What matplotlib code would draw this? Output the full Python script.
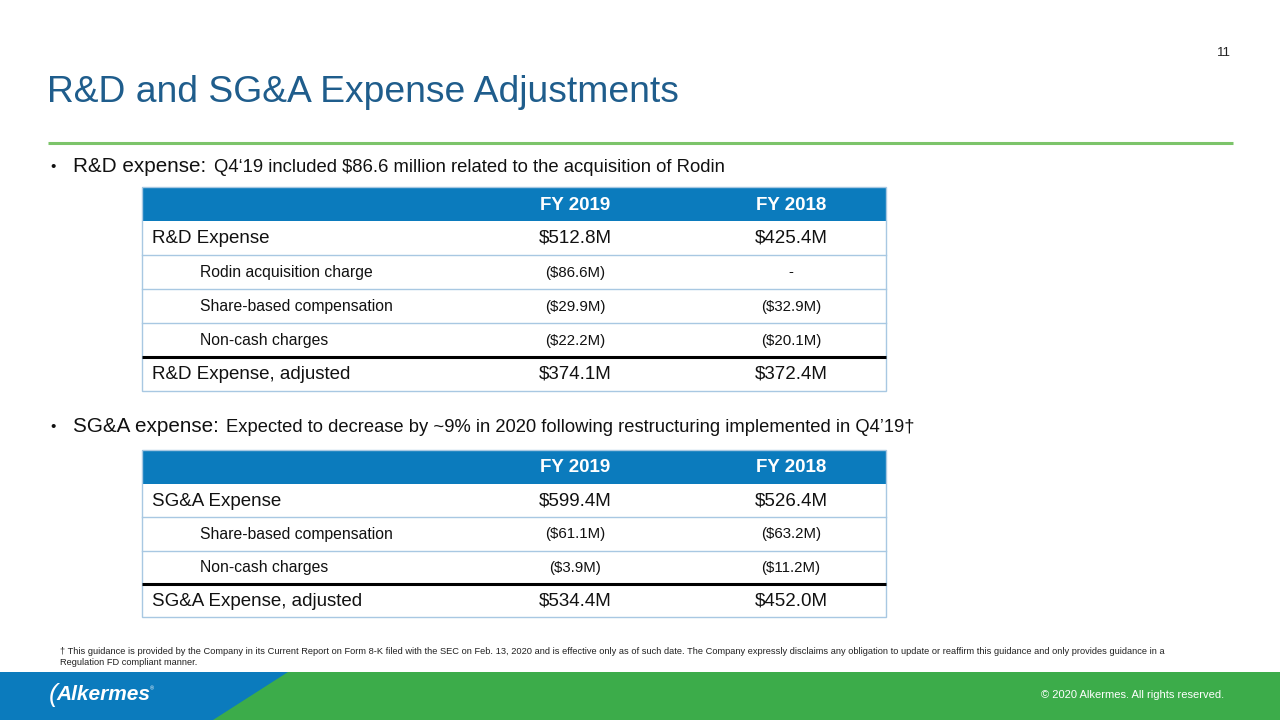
import matplotlib
matplotlib.use("Agg")
import matplotlib.pyplot as plt
from matplotlib.patches import Rectangle, Polygon
from matplotlib import font_manager

# ---- slide text / table data ----
title = "R&D and SG&A Expense Adjustments"
page_no = "11"

bullet1_head = "R&D expense:"
bullet1_body = "Q4\u201819 included $86.6 million related to the acquisition of Rodin"
bullet2_head = "SG&A expense:"
bullet2_body = "Expected to decrease by ~9% in 2020 following restructuring implemented in Q4\u201919\u2020"

col_headers = ["FY 2019", "FY 2018"]

rd_labels = ["R&D Expense", "Rodin acquisition charge", "Share-based compensation",
             "Non-cash charges", "R&D Expense, adjusted"]
rd_fy2019 = ["$512.8M", "($86.6M)", "($29.9M)", "($22.2M)", "$374.1M"]
rd_fy2018 = ["$425.4M", "-", "($32.9M)", "($20.1M)", "$372.4M"]
rd_indent = [False, True, True, True, False]

sga_labels = ["SG&A Expense", "Share-based compensation", "Non-cash charges",
              "SG&A Expense, adjusted"]
sga_fy2019 = ["$599.4M", "($61.1M)", "($3.9M)", "$534.4M"]
sga_fy2018 = ["$526.4M", "($63.2M)", "($11.2M)", "$452.0M"]
sga_indent = [False, True, True, False]

footnote = ("\u2020 This guidance is provided by the Company in its Current Report on Form 8-K filed with the SEC on "
            "Feb. 13, 2020 and is effective only as of such date. The Company expressly disclaims any obligation "
            "to update or reaffirm this guidance and only provides guidance in a\nRegulation FD compliant manner.")
copyright_txt = "\u00a9 2020 Alkermes. All rights reserved."

# ---- style ----
BLUE = "#0b7bbd"
GREEN = "#3cac4a"
TITLE_C = "#1f5d8c"
RULE_C = "#7cc46a"
GRID_C = "#a8c8e2"

names = {f.name for f in font_manager.fontManager.ttflist}
SANS = "Liberation Sans" if "Liberation Sans" in names else "DejaVu Sans"

fig = plt.figure(figsize=(12.8, 7.2), dpi=100)
ax = fig.add_axes([0, 0, 1, 1])
ax.set_xlim(0, 1280)
ax.set_ylim(720, 0)
ax.axis("off")

# title, page number, green rule
ax.text(47, 92, title, fontsize=26.8, color=TITLE_C, family=SANS, va="center", ha="left")
ax.text(1231, 53, page_no, fontsize=9.5, color="#222222", family=SANS, va="center", ha="right")
ax.plot([48, 1233], [143, 143], color=RULE_C, lw=2.2, solid_capstyle="butt")


def bullet(y, head, body, body_fs):
    ax.text(50, y, "\u2022", fontsize=11, family=SANS, va="center", ha="left", color="#111111")
    t = ax.text(73, y, head + " ", fontsize=14.9, family=SANS, va="center", ha="left", color="#111111")
    fig.canvas.draw()
    x2 = t.get_window_extent().x1
    ax.text(x2 + 2, y + 0.5, body, fontsize=body_fs, family=SANS, va="center", ha="left", color="#111111")


bullet(167, bullet1_head, bullet1_body, 13.3)
bullet(427, bullet2_head, bullet2_body, 13.2)


def table(top, labels, v1, v2, indent, hdr_h, row_h):
    x0, x1 = 142, 886
    c1, c2 = 575, 791
    n = len(labels)
    bottom = top + hdr_h + n * row_h
    ax.add_patch(Rectangle((x0, top), x1 - x0, hdr_h, color=BLUE, lw=0))
    ax.add_patch(Rectangle((x0, top), x1 - x0, bottom - top, fill=False, ec=GRID_C, lw=1.0))
    hy = top + hdr_h / 2 + 1
    for cx, h in zip([c1, c2], col_headers):
        ax.text(cx, hy, h, fontsize=13.5, weight="bold", color="white", family=SANS,
                ha="center", va="center")
    for i in range(n):
        ry = top + hdr_h + i * row_h
        if i > 0:
            if i == n - 1:
                ax.plot([x0, x1], [ry, ry], color="black", lw=2.2, solid_capstyle="butt")
            else:
                ax.plot([x0, x1], [ry, ry], color=GRID_C, lw=1.0)
        cy = ry + row_h / 2 + 0.5
        lab_fs = 11.3 if indent[i] else 13.5
        val_fs = 10.8 if indent[i] else 13.5
        ax.text(200 if indent[i] else 152, cy, labels[i], fontsize=lab_fs, family=SANS, color="#111111",
                ha="left", va="center")
        ax.text(c1, cy, v1[i], fontsize=val_fs, family=SANS, color="#111111", ha="center", va="center")
        ax.text(c2, cy, v2[i], fontsize=val_fs, family=SANS, color="#111111", ha="center", va="center")


table(187, rd_labels, rd_fy2019, rd_fy2018, rd_indent, 34, 34)
table(450, sga_labels, sga_fy2019, sga_fy2018, sga_indent, 34, 33.3)

# footnote
ax.text(60, 657, footnote, fontsize=6.7, family=SANS, color="#222222", ha="left", va="center",
        linespacing=1.3)

# footer band
ax.add_patch(Rectangle((0, 672), 1280, 48, color=GREEN, lw=0))
ax.add_patch(Polygon([(0, 672), (288, 672), (213, 720), (0, 720)], closed=True, color=BLUE, lw=0))
ax.text(49, 695, "(", fontsize=19, color="white", family=SANS, style="italic", va="center", ha="left")
ax.text(56, 694, "Alkermes", fontsize=15, color="white", family=SANS, style="italic", weight="bold",
        va="center", ha="left")
ax.text(150, 689, "\u00ae", fontsize=4, color="white", family=SANS, va="center", ha="left")
ax.text(1224, 695, copyright_txt, fontsize=8, color="white", family=SANS, va="center", ha="right")

fig.savefig("out.png", dpi=100)
